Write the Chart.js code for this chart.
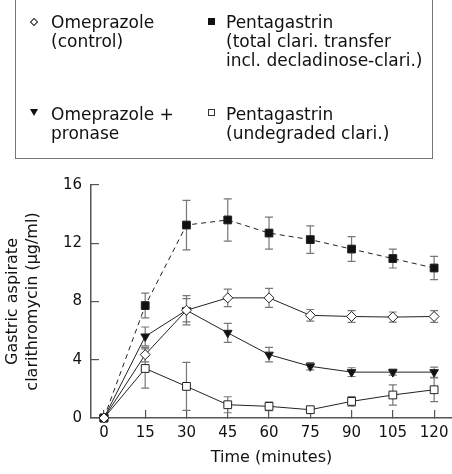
<!DOCTYPE html>
<html>
<head>
<meta charset="utf-8">
<script src="https://cdn.jsdelivr.net/npm/chart.js@4/dist/chart.umd.min.js"></script>
<style>
  body { margin: 0; background: #fff; }
  #wrap { position: relative; width: 452px; height: 474px; font-family: "DejaVu Sans", sans-serif; color: #111; }
  #chart { position: absolute; left: 0; top: 0; }
  #legendBox { position: absolute; left: 15px; top: -2px; width: 418px; height: 161px; border: 1.5px solid #777; box-sizing: border-box; }
  .txt { position: absolute; font-size: 17px; line-height: 19px; white-space: nowrap; }
  .mk { position: absolute; box-sizing: border-box; }
</style>
</head>
<body>
<div id="wrap">
  <canvas id="chart" width="452" height="474"></canvas>
  <div id="legendBox"></div>
  <div class="mk" style="left:31px; top:18.5px; width:6px; height:6px; border:1px solid #222; transform:rotate(45deg);"></div>
  <div class="txt" style="left:51px; top:13px;">Omeprazole<br>(control)</div>
  <div class="mk" style="left:208px; top:18px; width:7px; height:7px; background:#111;"></div>
  <div class="txt" style="left:226px; top:13px;">Pentagastrin<br>(total clari. transfer<br>incl. decladinose-clari.)</div>
  <div class="mk" style="left:30px; top:108.5px; width:0; height:0; border-left:4px solid transparent; border-right:4px solid transparent; border-top:7px solid #111;"></div>
  <div class="txt" style="left:51px; top:105px;">Omeprazole +<br>pronase</div>
  <div class="mk" style="left:208px; top:108.5px; width:7px; height:7px; border:1px solid #333;"></div>
  <div class="txt" style="left:226px; top:105px;">Pentagastrin<br>(undegraded clari.)</div>
</div>
<script>
// Time points (minutes) and tick labels
const timePoints = [0, 15, 30, 45, 60, 75, 90, 105, 120];
const xTicks = [0, 15, 30, 45, 60, 75, 90, 105, 120];
const yTicks = [0, 4, 8, 12, 16];

// Series values (µg/ml) and error bars
const omeprazole = [0, 4.35, 7.4, 8.25, 8.25, 7.05, 6.97, 6.93, 6.97];
const omeprazoleErr = [0, 0.5, 0.8, 0.6, 0.65, 0.4, 0.4, 0.35, 0.4];
const pronase = [0, 5.6, 7.4, 5.85, 4.35, 3.55, 3.15, 3.15, 3.15];
const pronaseErr = [0, 0.65, 1.0, 0.65, 0.5, 0.25, 0.3, 0.2, 0.35];
const pentaTotal = [0, 7.72, 13.25, 13.6, 12.7, 12.25, 11.6, 10.95, 10.3];
const pentaTotalErr = [0, 0.85, 1.7, 1.45, 1.1, 0.95, 0.85, 0.65, 0.8];
const pentaUndeg = [0, 3.4, 2.17, 0.91, 0.8, 0.57, 1.14, 1.58, 1.94];
const pentaUndegErr = [0, 1.35, 1.65, 0.55, 0.3, 0.2, 0.33, 0.7, 0.82];

function toPoints(values) {
    return timePoints.map((t, i) => ({ x: t, y: values[i] }));
}

// Error bars drawn under the markers, through the chart scales
const errorBars = {
    id: 'errorBars',
    beforeDatasetsDraw(chart) {
        const ctx = chart.ctx;
        const xs = chart.scales.x;
        const ys = chart.scales.y;
        ctx.save();
        ctx.strokeStyle = '#777';
        ctx.lineWidth = 1.2;
        chart.data.datasets.forEach(ds => {
            ds.data.forEach((p, i) => {
                const e = ds.errors[i];
                if (!e) return;
                const x = xs.getPixelForValue(p.x);
                const y1 = ys.getPixelForValue(p.y + e);
                const y2 = ys.getPixelForValue(p.y - e);
                ctx.beginPath();
                ctx.moveTo(x, y1); ctx.lineTo(x, y2);
                ctx.moveTo(x - 4, y1); ctx.lineTo(x + 4, y1);
                ctx.moveTo(x - 4, y2); ctx.lineTo(x + 4, y2);
                ctx.stroke();
            });
        });
        ctx.restore();
    }
};

const common = {
    borderColor: '#222',
    borderWidth: 1,
    pointBorderColor: '#222',
    pointBorderWidth: 1,
    pointHoverRadius: 5,
    tension: 0,
    clip: false
};

new Chart(document.getElementById('chart'), {
    type: 'line',
    data: {
        datasets: [
            Object.assign({}, common, {
                label: 'Omeprazole (control)',
                data: toPoints(omeprazole),
                errors: omeprazoleErr,
                pointStyle: 'rectRot',
                pointRadius: 5,
                pointBackgroundColor: '#fff'
            }),
            Object.assign({}, common, {
                label: 'Omeprazole + pronase',
                data: toPoints(pronase),
                errors: pronaseErr,
                pointStyle: 'triangle',
                pointRotation: 180,
                pointRadius: 5,
                pointBackgroundColor: '#111'
            }),
            Object.assign({}, common, {
                label: 'Pentagastrin (total)',
                data: toPoints(pentaTotal),
                errors: pentaTotalErr,
                borderDash: [5, 4],
                pointStyle: 'rect',
                pointRadius: 5.5,
                pointBackgroundColor: '#111'
            }),
            Object.assign({}, common, {
                label: 'Pentagastrin (undegraded)',
                data: toPoints(pentaUndeg),
                errors: pentaUndegErr,
                pointStyle: 'rect',
                pointRadius: 5.5,
                pointBackgroundColor: '#fff'
            })
        ]
    },
    options: {
        responsive: false,
        animation: false,
        layout: { autoPadding: false, padding: { top: 185, left: 0, right: 0, bottom: 0 } },
        plugins: {
            legend: { display: false },
            tooltip: { enabled: false }
        },
        scales: {
            x: {
                type: 'linear',
                min: -4.7,
                max: 126.5,
                afterBuildTicks: s => { s.ticks = xTicks.map(v => ({ value: v })); },
                afterFit: s => { s.height = 56; s.paddingLeft = 0; s.paddingRight = 0; },
                grid: { drawOnChartArea: false, tickLength: -8, color: '#555', lineWidth: 1.2 },
                border: { color: '#555', width: 1.5 },
                ticks: { color: '#111', padding: 14, font: { family: 'DejaVu Sans', size: 15 } },
                title: {
                    display: true,
                    text: 'Time (minutes)',
                    color: '#111',
                    font: { family: 'DejaVu Sans', size: 16, lineHeight: 1.25 },
                    padding: { top: 0, bottom: 6 }
                }
            },
            y: {
                min: 0,
                max: 16,
                afterBuildTicks: s => { s.ticks = yTicks.map(v => ({ value: v })); },
                afterFit: s => { s.width = 91; },
                grid: { drawOnChartArea: false, tickLength: -8, color: '#555', lineWidth: 1.2 },
                border: { color: '#555', width: 1.5 },
                ticks: { color: '#111', padding: 17, font: { family: 'DejaVu Sans', size: 15 } },
                title: {
                    display: true,
                    text: ['Gastric aspirate', 'clarithromycin (µg/ml)'],
                    color: '#111',
                    font: { family: 'DejaVu Sans', size: 16, lineHeight: 1.25 },
                    padding: { top: 3, bottom: 0 }
                }
            }
        }
    },
    plugins: [errorBars]
});
</script>
</body>
</html>
